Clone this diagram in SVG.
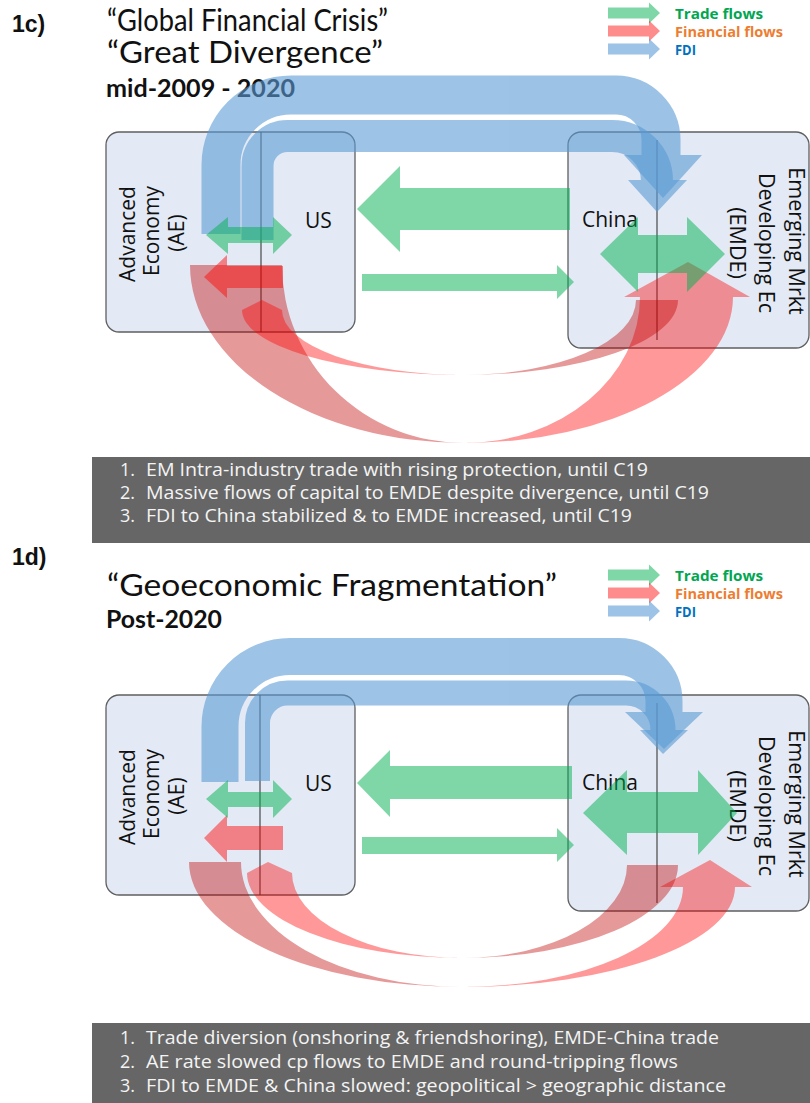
<svg xmlns="http://www.w3.org/2000/svg" width="810" height="1103" viewBox="0 0 810 1103">
<defs>
<style>
.box{fill:#e3eaf5;stroke:#5f5f5f;stroke-width:1.3}
.dv{stroke:#3a3a3a;stroke-width:1.1}
.lbl{font-family:"Open Sans","Noto Sans",sans-serif;font-size:21px;fill:#111}
.lble{font-family:"Open Sans","Noto Sans",sans-serif;font-size:21.5px;fill:#111}
.ttl{font-family:Lato,"Open Sans",sans-serif;font-size:31px;fill:#111}
.sub{font-family:Lato,"Open Sans",sans-serif;font-weight:bold;font-size:24px;fill:#111}
.num{font-family:"Liberation Sans",Arial,sans-serif;font-weight:bold;font-size:23px;fill:#111}
.leg{font-family:"Open Sans",sans-serif;font-weight:bold;font-size:15px}
.note{font-family:"Open Sans",sans-serif;font-size:18px;fill:#f4f4f4}
.panel{fill:#666666}
.gr{fill:#00b050;fill-opacity:.5}
.bl{fill:#5b9bd5}
.bls{fill:none;stroke:#5b9bd5}
.rd{fill:#c00000;fill-opacity:.4}
.rl{fill:#ff0000;fill-opacity:.4}
.rs{fill:#ff0000;fill-opacity:.45}
</style>
</defs>
<rect x="0" y="0" width="810" height="1103" fill="#ffffff"/>

<!-- ===== Panel 1c ===== -->
<g id="title-1c">
<text class="num" x="12" y="32">1c)</text>
<text class="ttl" x="107" y="31" textLength="281" lengthAdjust="spacingAndGlyphs">“Global Financial Crisis”</text>
<text class="ttl" x="107" y="63" textLength="276" lengthAdjust="spacingAndGlyphs">“Great Divergence”</text>
<text class="sub" x="106" y="97" textLength="189" lengthAdjust="spacingAndGlyphs">mid-2009 - 2020</text>
</g>

<g id="legend-1c">
<polygon class="gr" points="608,7.5 649,7.5 649,2.5 660,13 649,23.5 649,18.5 608,18.5"/>
<polygon class="rs" points="608,25.5 649,25.5 649,20.5 660,31 649,41.5 649,36.5 608,36.5"/>
<polygon class="bl" fill-opacity="0.6" points="608,43.5 649,43.5 649,38.5 660,49 649,59.5 649,54.5 608,54.5"/>
<text class="leg" x="675" y="19" fill="#00a651" textLength="88" lengthAdjust="spacingAndGlyphs">Trade flows</text>
<text class="leg" x="675" y="37" fill="#ed7d31" textLength="108" lengthAdjust="spacingAndGlyphs">Financial flows</text>
<text class="leg" x="675" y="55" fill="#0070c0" textLength="21" lengthAdjust="spacingAndGlyphs">FDI</text>
</g>

<g id="diagram-1c">
<g id="node-ae-1c">
<rect class="box" x="106" y="132" width="249" height="200" rx="13"/>
<line class="dv" x1="261" y1="132" x2="261" y2="332"/>
<text class="lbl" text-anchor="middle" transform="translate(135,234) rotate(-90)">Advanced</text>
<text class="lbl" text-anchor="middle" transform="translate(159,231) rotate(-90)">Economy</text>
<text class="lbl" text-anchor="middle" transform="translate(184,233) rotate(-90)">(AE)</text>
<text class="lbl" x="305" y="228">US</text>
</g>
<g id="node-emde-1c">
<rect class="box" x="568" y="132" width="241" height="216" rx="13"/>
<line class="dv" x1="657" y1="140" x2="657" y2="340"/>
<text class="lbl" x="582" y="227">China</text>
<text class="lble" text-anchor="middle" transform="translate(789,241) rotate(90)">Emerging Mrkt</text>
<text class="lble" text-anchor="middle" transform="translate(759,243) rotate(90)">Developing Ec</text>
<text class="lble" text-anchor="middle" transform="translate(730,243) rotate(90)">(EMDE)</text>
</g>
<g id="connectors-1c">
<g opacity="0.6">
<path class="bls" stroke-width="39" d="M221,234 V165 A70,70 0 0 1 291,95 H616 A45,45 0 0 1 661,140 V156"/>
<polygon class="bl" points="624,155 702,155 663,198"/>
</g>
<g opacity="0.6">
<path class="bls" stroke-width="32" d="M257.5,240 V166 A30,30 0 0 1 287.5,136 H612 A45,45 0 0 1 657,181"/>
<polygon class="bl" points="628,180 687,180 657,212"/>
</g>
<path class="rd" d="M190,265 A274,178 0 0 0 464,443 A182,178 0 0 1 282,265 Z"/>
<path class="rl" d="M464,443 A269,146 0 0 0 733,297 L750,297 L688,262 L624,297 L640,297 A176,146 0 0 1 464,443 Z"/>
<path class="rd" d="M678,300 A214,75 0 0 1 464,375 A172,75 0 0 0 636,300 Z"/>
<path class="rl" d="M464,375 A222,65 0 0 1 242,310 L262,300 L282,310 A182,65 0 0 0 464,375 Z"/>
<polygon class="rs" points="204,277 227,255 227,266 283,266 283,288 227,288 227,298"/>
<polygon class="gr" points="357,209 400,166 400,188 570,188 570,230 400,230 400,252"/>
<polygon class="gr" points="362,274 557,274 557,265 574,282 557,299 557,291 362,291"/>
<polygon class="gr" points="206,235 228,217 228,227 273,227 273,217 292,235 273,254 273,243 228,243 228,254"/>
<polygon class="gr" points="600,254 638,217 638,235 687,235 687,217 725,254 687,292 687,273 638,273 638,292"/>
</g>
</g>

<g id="notes-1c">
<rect class="panel" x="92" y="457" width="718" height="86"/>
<text class="note" x="120" y="476">1.</text>
<text class="note" x="146" y="476" textLength="502" lengthAdjust="spacingAndGlyphs">EM Intra-industry trade with rising protection, until C19</text>
<text class="note" x="120" y="499">2.</text>
<text class="note" x="146" y="499" textLength="563" lengthAdjust="spacingAndGlyphs">Massive flows of capital to EMDE despite divergence, until C19</text>
<text class="note" x="120" y="522">3.</text>
<text class="note" x="146" y="522" textLength="486" lengthAdjust="spacingAndGlyphs">FDI to China stabilized &amp; to EMDE increased, until C19</text>
</g>

<!-- ===== Panel 1d ===== -->
<g id="title-1d">
<text class="num" x="12" y="565">1d)</text>
<text class="ttl" x="107" y="596" textLength="450" lengthAdjust="spacingAndGlyphs">“Geoeconomic Fragmentation”</text>
<text class="sub" x="106" y="628" textLength="116" lengthAdjust="spacingAndGlyphs">Post-2020</text>
</g>

<g id="legend-1d" transform="translate(0,562)">
<polygon class="gr" points="608,7.5 649,7.5 649,2.5 660,13 649,23.5 649,18.5 608,18.5"/>
<polygon class="rs" points="608,25.5 649,25.5 649,20.5 660,31 649,41.5 649,36.5 608,36.5"/>
<polygon class="bl" fill-opacity="0.6" points="608,43.5 649,43.5 649,38.5 660,49 649,59.5 649,54.5 608,54.5"/>
<text class="leg" x="675" y="19" fill="#00a651" textLength="88" lengthAdjust="spacingAndGlyphs">Trade flows</text>
<text class="leg" x="675" y="37" fill="#ed7d31" textLength="108" lengthAdjust="spacingAndGlyphs">Financial flows</text>
<text class="leg" x="675" y="55" fill="#0070c0" textLength="21" lengthAdjust="spacingAndGlyphs">FDI</text>
</g>

<g id="diagram-1d" transform="translate(0,563)">
<g id="node-ae-1d">
<rect class="box" x="106" y="132" width="249" height="200" rx="13"/>
<line class="dv" x1="260" y1="132" x2="260" y2="332"/>
<text class="lbl" text-anchor="middle" transform="translate(135,234) rotate(-90)">Advanced</text>
<text class="lbl" text-anchor="middle" transform="translate(159,231) rotate(-90)">Economy</text>
<text class="lbl" text-anchor="middle" transform="translate(184,233) rotate(-90)">(AE)</text>
<text class="lbl" x="305" y="228">US</text>
</g>
<g id="node-emde-1d">
<rect class="box" x="568" y="132" width="241" height="216" rx="13"/>
<line class="dv" x1="657" y1="140" x2="657" y2="340"/>
<text class="lbl" x="582" y="227">China</text>
<text class="lble" text-anchor="middle" transform="translate(789,241) rotate(90)">Emerging Mrkt</text>
<text class="lble" text-anchor="middle" transform="translate(759,243) rotate(90)">Developing Ec</text>
<text class="lble" text-anchor="middle" transform="translate(730,243) rotate(90)">(EMDE)</text>
</g>
<g id="connectors-1d">
<g opacity="0.6">
<path class="bls" stroke-width="37" d="M220,219 V163.5 A70,70 0 0 1 290,93.5 H619 A45,45 0 0 1 664,138.5 V150"/>
<polygon class="bl" points="625,149 703,149 664,186"/>
</g>
<g opacity="0.6">
<path class="bls" stroke-width="25" d="M257.5,218 V160 A30,30 0 0 1 287.5,130 H626 A37,37 0 0 1 663,167 V168"/>
<polygon class="bl" points="640,167 688,167 663,191"/>
</g>
<path class="rd" d="M189,299 A273,125 0 0 0 462,424 A221,125 0 0 1 241,299 Z"/>
<path class="rl" d="M462,424 A273,100 0 0 0 735,324 L752,324 L710,297 L660,324 L683,324 A221,100 0 0 1 462,424 Z"/>
<path class="rd" d="M678,302 A216,93 0 0 1 462,395 A165,93 0 0 0 627,302 Z"/>
<path class="rl" d="M462,395 A215,85 0 0 1 247,310 L268,299 L292,310 A170,85 0 0 0 462,395 Z"/>
<polygon class="rs" points="204,275 227,252 227,263 283,263 283,287 227,287 227,299"/>
<polygon class="gr" points="357,220 390,187 390,203 572,203 572,236 390,236 390,254"/>
<polygon class="gr" points="362,274 557,274 557,265 574,282 557,299 557,291 362,291"/>
<polygon class="gr" points="206,236 228,217 228,229 273,229 273,217 292,236 273,255 273,244 228,244 228,255"/>
<polygon class="gr" points="583,250 627,207 627,229 698,229 698,207 737,250 698,292 698,270 627,270 627,292"/>
</g>
</g>

<g id="notes-1d">
<rect class="panel" x="92" y="1023" width="718" height="80"/>
<text class="note" x="120" y="1044">1.</text>
<text class="note" x="146" y="1044" textLength="573" lengthAdjust="spacingAndGlyphs">Trade diversion (onshoring &amp; friendshoring), EMDE-China trade</text>
<text class="note" x="120" y="1068">2.</text>
<text class="note" x="146" y="1068" textLength="532" lengthAdjust="spacingAndGlyphs">AE rate slowed cp flows to EMDE and round-tripping flows</text>
<text class="note" x="120" y="1092">3.</text>
<text class="note" x="146" y="1092" textLength="580" lengthAdjust="spacingAndGlyphs">FDI to EMDE &amp; China slowed: geopolitical &gt; geographic distance</text>
</g>
</svg>
